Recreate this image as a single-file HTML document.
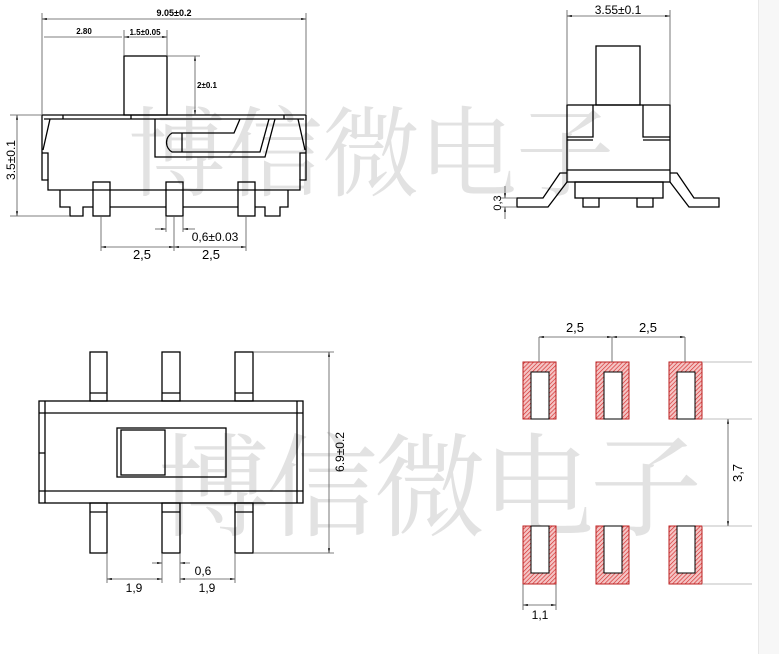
<!DOCTYPE html>
<html><head><meta charset="utf-8"><style>
html,body{margin:0;padding:0;background:#fff;}
svg{display:block;}
text{font-family:"Liberation Sans","DejaVu Sans",sans-serif;}
</style></head><body>
<svg width="779" height="654" viewBox="0 0 779 654" xmlns="http://www.w3.org/2000/svg">
<defs>
<pattern id="h" width="3" height="3" patternUnits="userSpaceOnUse" patternTransform="rotate(45)">
<rect width="3" height="3" fill="#f4c4c4"/><line x1="0" y1="0" x2="0" y2="3" stroke="#d42a2a" stroke-width="1.3"/>
</pattern>
<marker id="a" viewBox="0 0 10 10" refX="10" refY="5" markerWidth="6" markerHeight="6" orient="auto-start-reverse"><path d="M0,3L10,5L0,7z" fill="#000"/></marker>
</defs>
<rect x="759" y="0" width="20" height="654" fill="#f7f7f7"/>
<line x1="758.5" y1="0" x2="758.5" y2="654" stroke="#e8e8e8"/>

<g fill="#e2e2e2">
<text x="128" y="188" font-size="98" letter-spacing="-1" style="font-family:'Noto Serif CJK SC',serif">博信微电子</text>
<text x="158" y="527" font-size="112" letter-spacing="-4" style="font-family:'Noto Serif CJK SC',serif">博信微电子</text>
</g>

<g fill="none" stroke="#000" stroke-width="1.3">
<rect x="124" y="56" width="43" height="59"/>
<line x1="42" y1="115" x2="306" y2="115"/>
<line x1="44" y1="119" x2="304" y2="119"/>
<path d="M42,115 L42,180 L48,180 L48,190 L300,190 L300,180 L306,180 L306,115"/>
<path d="M50,119 L43,150 M298,119 L305,150"/>
<path d="M42,153 L48,153 L48,180 M306,153 L300,153 L300,180"/>
<path d="M60,190 L60,207 L70,207 L70,216 L83,216 L83,207 L93,207"/>
<path d="M288,190 L288,207 L280,207 L280,216 L265,216 L265,207 L255,207"/>
<line x1="110" y1="207" x2="166" y2="207"/><line x1="183" y1="207" x2="238" y2="207"/>
<rect x="93" y="182" width="17" height="34"/>
<rect x="166" y="182" width="17" height="34"/>
<rect x="238" y="182" width="17" height="34"/>
<line x1="63" y1="115" x2="63" y2="119"/><line x1="131" y1="115" x2="131" y2="119"/><line x1="284" y1="115" x2="284" y2="119"/>
<path d="M155,119 L155,157 L265,157 L275,119"/>
<path d="M240,119 L234,133 L172,133 A11,11 0 0 0 172,152 L260,152 L269,119"/>
<line x1="182" y1="133" x2="182" y2="152"/>

<rect x="596" y="46" width="44" height="59"/>
<rect x="567" y="105" width="103" height="77"/>
<path d="M567,137 L593,137 L593,105 M567,140 L593,140 M670,137 L643,137 L643,105 M670,140 L643,140"/>
<line x1="567" y1="170" x2="670" y2="170"/>
<rect x="575" y="182" width="88" height="16"/>
<path d="M583,198 L583,207 L599,207 L599,198 M637,198 L637,207 L653,207 L653,198"/>
<path d="M567,173 L560,173 L543,198 L517,198 L517,207 L548,207 L567,182"/>
<path d="M670,173 L677,173 L694,198 L719,198 L719,207 L689,207 L670,182"/>

<rect x="39" y="401" width="264" height="102"/>
<path d="M39,413 L303,413 M39,491 L303,491 M45,401 L45,503 M297,401 L297,503 M39,453 L45,453"/>
<rect x="117" y="428" width="109" height="49"/>
<rect x="121" y="430" width="44" height="45"/>
<rect x="90" y="352" width="17" height="49"/><line x1="90" y1="393" x2="107" y2="393"/>
<rect x="162" y="352" width="18" height="49"/><line x1="162" y1="393" x2="180" y2="393"/>
<rect x="235" y="352" width="18" height="49"/><line x1="235" y1="393" x2="253" y2="393"/>
<rect x="90" y="503" width="17" height="50"/><line x1="90" y1="512" x2="107" y2="512"/>
<rect x="162" y="503" width="18" height="50"/><line x1="162" y1="512" x2="180" y2="512"/>
<rect x="235" y="503" width="18" height="50"/><line x1="235" y1="512" x2="253" y2="512"/>
</g>

<g stroke="#000" stroke-width="1">
<rect x="523" y="362" width="33" height="57" fill="url(#h)" stroke="#b22"/>
<rect x="596" y="362" width="33" height="57" fill="url(#h)" stroke="#b22"/>
<rect x="669" y="362" width="33" height="57" fill="url(#h)" stroke="#b22"/>
<rect x="523" y="526" width="33" height="58" fill="url(#h)" stroke="#b22"/>
<rect x="596" y="526" width="33" height="58" fill="url(#h)" stroke="#b22"/>
<rect x="669" y="526" width="33" height="58" fill="url(#h)" stroke="#b22"/>
<rect x="531" y="372" width="18" height="47" fill="#fff"/>
<rect x="604" y="372" width="18" height="47" fill="#fff"/>
<rect x="677" y="372" width="18" height="47" fill="#fff"/>
<rect x="531" y="526" width="18" height="47" fill="#fff"/>
<rect x="604" y="526" width="18" height="47" fill="#fff"/>
<rect x="677" y="526" width="18" height="47" fill="#fff"/>
</g>

<g stroke="#555" stroke-width="0.8" fill="none">
<line x1="42" y1="13" x2="42" y2="115"/><line x1="306" y1="13" x2="306" y2="115"/>
<line x1="42" y1="19" x2="306" y2="19" marker-start="url(#a)" marker-end="url(#a)"/>
<line x1="44" y1="37" x2="122" y2="37"/><line x1="124" y1="37" x2="167" y2="37" marker-start="url(#a)" marker-end="url(#a)"/>
<line x1="124" y1="30" x2="124" y2="56"/><line x1="167" y1="30" x2="167" y2="56"/>
<line x1="167" y1="56" x2="200" y2="56"/>
<line x1="195" y1="56" x2="195" y2="115" marker-start="url(#a)" marker-end="url(#a)"/>
<line x1="10" y1="115" x2="42" y2="115"/><line x1="10" y1="216" x2="70" y2="216"/>
<line x1="17" y1="115" x2="17" y2="216" marker-start="url(#a)" marker-end="url(#a)"/>
<line x1="101" y1="216" x2="101" y2="251"/><line x1="174" y1="216" x2="174" y2="251"/><line x1="246" y1="216" x2="246" y2="251"/>
<line x1="166" y1="216" x2="166" y2="232"/><line x1="183" y1="216" x2="183" y2="232"/>
<line x1="101" y1="247" x2="174" y2="247" marker-start="url(#a)" marker-end="url(#a)"/>
<line x1="174" y1="247" x2="246" y2="247" marker-start="url(#a)" marker-end="url(#a)"/>
<line x1="155" y1="229" x2="166" y2="229" marker-end="url(#a)"/>
<line x1="195" y1="229" x2="183" y2="229" marker-end="url(#a)"/>

<line x1="567" y1="10" x2="567" y2="105"/><line x1="670" y1="10" x2="670" y2="105"/>
<line x1="567" y1="16" x2="670" y2="16" marker-start="url(#a)" marker-end="url(#a)"/>
<line x1="505" y1="186" x2="505" y2="198" marker-end="url(#a)"/>
<line x1="505" y1="219" x2="505" y2="207" marker-end="url(#a)"/>
<line x1="500" y1="198" x2="517" y2="198"/><line x1="500" y1="207" x2="517" y2="207"/>

<line x1="253" y1="352" x2="334" y2="352"/><line x1="253" y1="553" x2="334" y2="553"/>
<line x1="329" y1="352" x2="329" y2="553" marker-start="url(#a)" marker-end="url(#a)"/>
<line x1="107" y1="553" x2="107" y2="583"/><line x1="162" y1="553" x2="162" y2="583"/>
<line x1="180" y1="553" x2="180" y2="583"/><line x1="235" y1="553" x2="235" y2="583"/>
<line x1="107" y1="579" x2="162" y2="579" marker-start="url(#a)" marker-end="url(#a)"/>
<line x1="180" y1="579" x2="235" y2="579" marker-start="url(#a)" marker-end="url(#a)"/>
<line x1="152" y1="563" x2="162" y2="563" marker-end="url(#a)"/>
<line x1="190" y1="563" x2="180" y2="563" marker-end="url(#a)"/>

<line x1="539" y1="337" x2="539" y2="362"/><line x1="612" y1="337" x2="612" y2="362"/><line x1="685" y1="337" x2="685" y2="362"/>
<line x1="539" y1="337" x2="612" y2="337" marker-start="url(#a)" marker-end="url(#a)"/>
<line x1="612" y1="337" x2="685" y2="337" marker-start="url(#a)" marker-end="url(#a)"/>
<line x1="702" y1="362" x2="752" y2="362" stroke="#aaa"/><line x1="702" y1="419" x2="752" y2="419" stroke="#aaa"/>
<line x1="702" y1="526" x2="752" y2="526" stroke="#aaa"/><line x1="702" y1="584" x2="752" y2="584" stroke="#aaa"/>
<line x1="728" y1="419" x2="728" y2="526" marker-start="url(#a)" marker-end="url(#a)"/>
<line x1="523" y1="584" x2="523" y2="610"/><line x1="556" y1="584" x2="556" y2="610"/>
<line x1="523" y1="605" x2="556" y2="605" marker-start="url(#a)" marker-end="url(#a)"/>
</g>

<g fill="#000">
<text x="174" y="16" font-size="9" text-anchor="middle" font-weight="bold">9.05±0.2</text>
<text x="84" y="34" font-size="8" text-anchor="middle" font-weight="bold">2.80</text>
<text x="145" y="35" font-size="8" text-anchor="middle" font-weight="bold">1.5±0.05</text>
<text x="197" y="88" font-size="8" font-weight="bold">2±0.1</text>
<text transform="translate(15,160) rotate(-90)" font-size="12" text-anchor="middle">3.5±0.1</text>
<text x="215" y="241" font-size="12" text-anchor="middle">0,6±0.03</text>
<text x="142" y="259" font-size="13" text-anchor="middle">2,5</text>
<text x="211" y="259" font-size="13" text-anchor="middle">2,5</text>
<text x="618" y="14" font-size="12" text-anchor="middle">3.55±0.1</text>
<text transform="translate(501,203) rotate(-90)" font-size="11" text-anchor="middle">0,3</text>
<text transform="translate(344,452) rotate(-90)" font-size="12" text-anchor="middle">6.9±0.2</text>
<text x="203" y="575" font-size="12" text-anchor="middle">0,6</text>
<text x="134" y="592" font-size="12" text-anchor="middle">1,9</text>
<text x="207" y="592" font-size="12" text-anchor="middle">1,9</text>
<text x="575" y="332" font-size="13" text-anchor="middle">2,5</text>
<text x="648" y="332" font-size="13" text-anchor="middle">2,5</text>
<text transform="translate(742,473) rotate(-90)" font-size="13" text-anchor="middle">3,7</text>
<text x="540" y="619" font-size="12" text-anchor="middle">1,1</text>
</g>
</svg>
</body></html>
